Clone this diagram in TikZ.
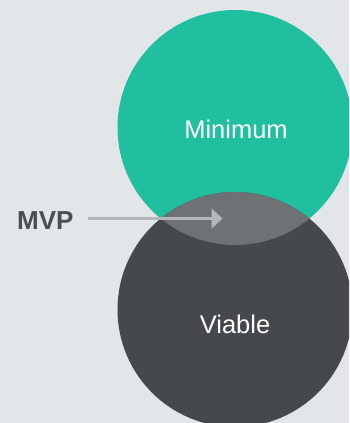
\documentclass[tikz,border=0pt]{standalone}
\usepackage{fontspec}
\setmainfont{Liberation Sans}
\usetikzlibrary{arrows.meta}

\definecolor{pagebg}{HTML}{E2E6E9}
\definecolor{mintteal}{HTML}{1FBF9F}
\definecolor{slate}{HTML}{45494C}
\definecolor{lensgray}{HTML}{6E7275}
\definecolor{pointer}{HTML}{B3B7BA}
\definecolor{tagtext}{HTML}{4A4E51}

\tikzset{
  blob/.style={circle, inner sep=0pt, minimum size=235pt},
  circlelabel/.style={anchor=base, inner sep=0pt, text=white, font=\fontsize{25.5}{30}\selectfont},
  taglabel/.style={anchor=base west, inner sep=0pt, text=tagtext, font=\bfseries\fontsize{26}{30}\selectfont},
  pointerline/.style={draw=pointer, line width=3pt, -{Triangle[length=11pt,width=20pt]}}
}

\begin{document}
\begin{tikzpicture}[x=1pt, y=-1pt]
  \useasboundingbox (0,0) rectangle (349,423);
  \fill[pagebg] (0,0) rectangle (349,423);
  \clip (0,0) rectangle (349,423);

  % the two circles
  \node[blob, fill=mintteal] (minimum) at (235,127.5) {};
  \node[blob, fill=slate] (viable) at (235,309.5) {};

  % their overlap
  \begin{scope}
    \clip (235,127.5) circle (117.5);
    \fill[lensgray] (235,309.5) circle (117.5);
  \end{scope}

  % labels
  \node[circlelabel] (minlabel) at (236,138.3) {Minimum};
  \node[circlelabel] (vialabel) at (235,333.3) {Viable};
  \node[taglabel] (mvp) at (17,229.3) {MVP};

  % pointer into the overlap
  \coordinate (pointertail) at (88,218.5);
  \coordinate (pointertip) at (222.5,218.5);
  \draw[pointerline] (pointertail) -- (pointertip);
\end{tikzpicture}
\end{document}
